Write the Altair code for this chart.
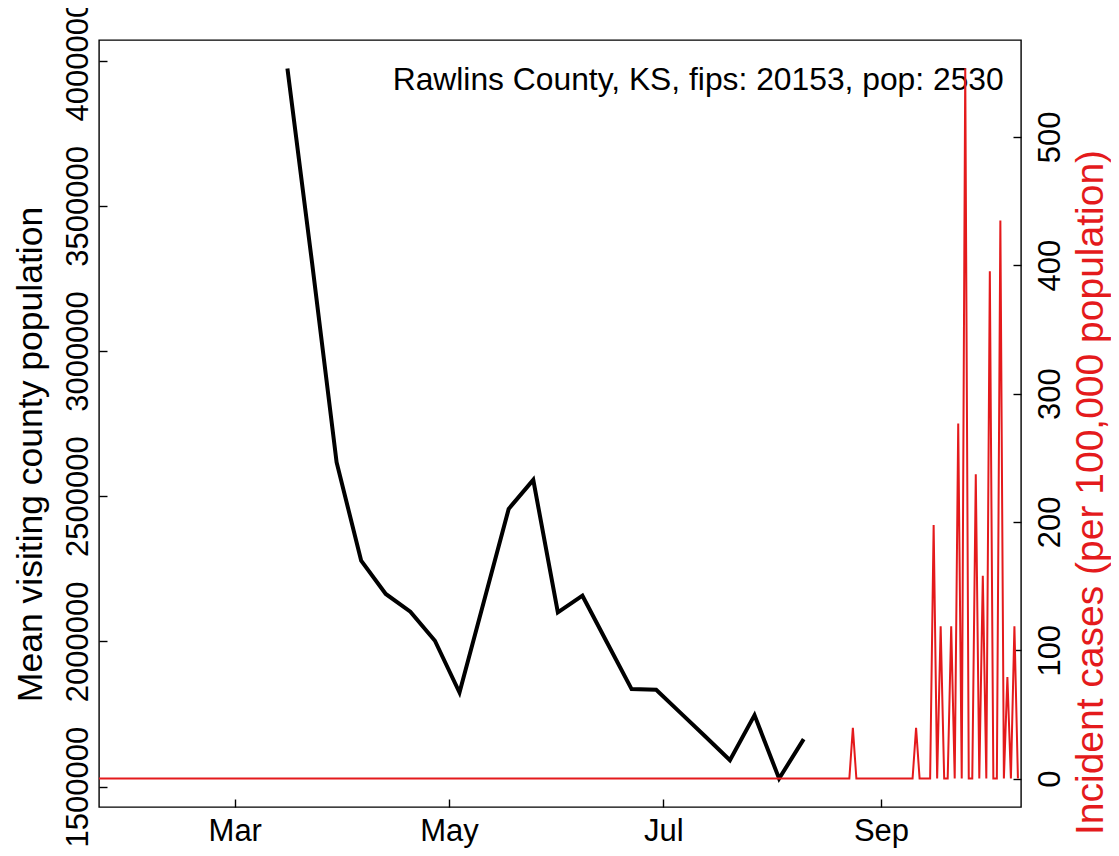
import altair as alt
import pandas as pd

# ---- data ----
mob_dates = ["2020-03-16", "2020-03-23", "2020-03-30", "2020-04-06", "2020-04-13",
             "2020-04-20", "2020-04-27", "2020-05-04", "2020-05-11", "2020-05-18",
             "2020-05-25", "2020-06-01", "2020-06-08", "2020-06-15", "2020-06-22",
             "2020-06-29", "2020-07-06", "2020-07-13", "2020-07-20", "2020-07-27",
             "2020-08-03", "2020-08-10"]
mob_values = [3973100, 3305400, 2616900, 2278100, 2163300, 2102200, 2002300, 1824000,
              2140200, 2456300, 2556300, 2099800, 2157400, 1996400, 1835800, 1833400,
              1753000, 1672400, 1591000, 1746100, 1527600, 1663400]

case_start = "2020-01-22"
case_end = "2020-10-10"
case_spike_dates = ["2020-08-24", "2020-09-11", "2020-09-16", "2020-09-18", "2020-09-21",
                    "2020-09-23", "2020-09-25", "2020-09-28", "2020-09-30", "2020-10-02",
                    "2020-10-05", "2020-10-07", "2020-10-09"]
case_spike_values = [39.5, 39.5, 197.6, 118.6, 118.6, 276.7, 553.4, 237.2, 158.1,
                     395.3, 434.8, 79.1, 118.6]

left_ticks = [1500000, 2000000, 2500000, 3000000, 3500000, 4000000]
right_ticks = [0, 100, 200, 300, 400, 500]
month_ticks = ["2020-03-01", "2020-05-01", "2020-07-01", "2020-09-01"]
annotation = ["Rawlins County, KS, fips: 20153, pop: 2530"]

# ---- tables ----
mob = pd.DataFrame({"date": mob_dates, "value": mob_values})
days = pd.date_range(case_start, case_end, freq="D")
spikes = dict(zip(case_spike_dates, case_spike_values))
cases = pd.DataFrame({
    "date": [d.strftime("%Y-%m-%d") for d in days],
    "value": [spikes.get(d.strftime("%Y-%m-%d"), 0.0) for d in days],
})
ann_df = pd.DataFrame({"label": annotation})

W, H = 922, 767
RED = "#E41A1C"
FONT = "Liberation Sans"
FS = 31

def dt(s, h=0, m=0):
    y, mo, d = (int(p) for p in s.split("-"))
    return alt.DateTime(year=y, month=mo, date=d, hours=h, minutes=m, utc=True)

xscale = alt.Scale(type="utc", domain=[dt("2020-01-22", 8, 24), dt("2020-10-10", 21, 0)])
xaxis = alt.Axis(values=[dt(s) for s in month_ticks], format="%b", title=None,
                 orient="bottom", offset=-8, tickSize=8, labelPadding=9,
                 labelBaseline="top", labelAlign="center", labelAngle=0)

black = alt.Chart(mob).mark_line(color="black", strokeWidth=4, clip=True).encode(
    x=alt.X("date:T", scale=xscale, axis=xaxis),
    y=alt.Y("value:Q",
            scale=alt.Scale(domain=[1429800, 4070900], nice=False, zero=False),
            axis=alt.Axis(values=left_ticks, format="d", orient="left", offset=-8,
                          tickSize=8, labelPadding=12, labelAngle=270,
                          labelAlign="center", labelBaseline="alphabetic",
                          title="Mean visiting county population",
                          titleFontSize=35.5,
                          titleAngle=270, titleAlign="center",
                          titleBaseline="alphabetic", titleX=-65.6, titleY=414)),
)

ann = alt.Chart(ann_df).mark_text(
    font=FONT, fontSize=31.8, align="right", baseline="alphabetic", color="black",
).encode(text="label:N", x=alt.value(904.7), y=alt.value(50))

red = alt.Chart(cases).mark_line(color=RED, strokeWidth=2, clip=True).encode(
    x=alt.X("date:T", scale=xscale, axis=xaxis),
    y=alt.Y("value:Q",
            scale=alt.Scale(domain=[-22.14, 575.5], nice=False, zero=False),
            axis=alt.Axis(values=right_ticks, format="d", orient="right", offset=-8,
                          tickSize=8, labelPadding=14, labelAngle=270,
                          labelAlign="center", labelBaseline="top",
                          title="Incident cases (per 100,000 population)",
                          titleFontSize=39,
                          titleColor=RED, titleAngle=270, titleAlign="center",
                          titleBaseline="alphabetic", titleX=89.5, titleY=452)),
)

chart = alt.layer(black, ann, red).resolve_scale(y="independent").properties(
    width=W, height=H,
    background="white",
    autosize=alt.AutoSizeParams(type="none"),
    padding={"left": 91, "top": 32, "right": 90, "bottom": 41},
).configure_view(
    stroke="black", strokeWidth=1.4
).configure_axis(
    grid=False, domain=False,
    labelFont=FONT, labelFontSize=FS, labelColor="black",
    tickColor="black", tickWidth=1.4,
    titleFont=FONT, titleFontSize=FS, titleFontWeight="normal", titleColor="black",
    labelOverlap=False, labelFlush=False,
)

chart.save("out.html", embed_options={"renderer": "svg", "actions": False})
